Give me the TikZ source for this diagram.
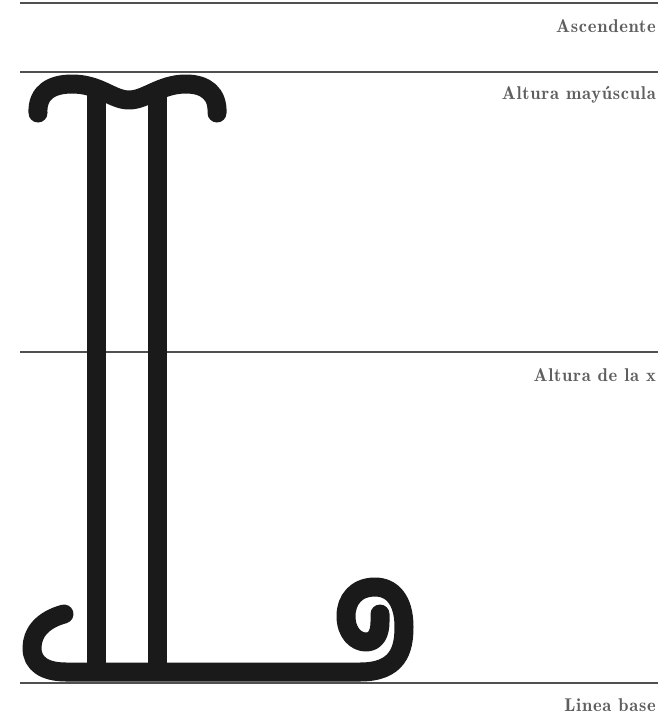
\documentclass[tikz,border=0pt]{standalone}
\usepackage{fontspec}
\usepackage{tikz}
\newfontfamily\guidefont{lmromandemi10-regular.otf}[LetterSpace=4]
\definecolor{guidecolor}{RGB}{80, 80, 80}
\definecolor{labelcolor}{RGB}{95, 95, 95}
\definecolor{glyphcolor}{RGB}{26, 26, 26}
\tikzset{
guideline/.style={
  draw=guidecolor,
  line width=1.1pt
},
guidelabel/.style={
  font=\guidefont\fontsize{18.5}{21}\selectfont,
  text=labelcolor,
  anchor=base east,
  inner sep=0pt
},
glyph/.style={
  draw=glyphcolor,
  line width=19pt,
  line cap=round,
  line join=round
},
stem/.style={
  glyph,
  line cap=butt
}
}
\begin{document}
\begin{tikzpicture}[x=1pt, y=-1pt]
  \useasboundingbox (0,0) rectangle (658,715);
  \def\yAsc{3}
  \def\yCap{72}
  \def\yX{352}
  \def\yBase{683}
  \def\xR{656}

  % --- guide lines ---
  \draw[guideline] (20,\yAsc) -- (658,\yAsc);
  \draw[guideline] (20,\yCap) -- (658,\yCap);
  \draw[guideline] (20,\yX) -- (658,\yX);
  \draw[guideline] (20,\yBase) -- (658,\yBase);

  % --- labels ---
  \node[guidelabel] (asc) at (\xR,\yAsc+29) {Ascendente};
  \node[guidelabel] (cap) at (\xR,\yCap+27) {Altura mayúscula};
  \node[guidelabel] (xh) at (\xR,\yX+29) {Altura de la x};
  \node[guidelabel] (base) at (\xR,\yBase+28) {Linea base};

  % --- letter: stems ---
  \draw[stem] (96.5,92) -- (96.5,672);
  \draw[stem] (157,92) -- (157,672);

  % --- letter: top curls ---
  \draw[glyph] (38,113) .. controls (37,92) and (52,84) .. (72,84)
    .. controls (100,84) and (112,100) .. (129,100)
    .. controls (146,100) and (160,84) .. (186,84)
    .. controls (206,84) and (218,94) .. (217,113);

  % --- letter: base bar, left curl and spiral ---
  \draw[glyph] (64,614) .. controls (42,620) and (32,633) .. (32,648)
    .. controls (32,664) and (45,672) .. (66,672) -- (360,672)
    .. controls (398,672) and (404,650) .. (404,627)
    .. controls (404,600) and (392,587) .. (375,587)
    .. controls (356,587) and (346,600) .. (346,616)
    .. controls (346,633) and (356,642) .. (366,642)
    .. controls (376,642) and (380,633) .. (380,622) -- (380,614);
\end{tikzpicture}
\end{document}
